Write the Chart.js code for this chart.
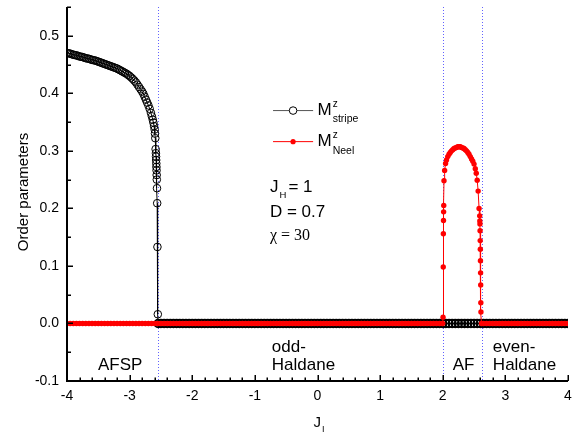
<!DOCTYPE html>
<html>
<head>
<meta charset="utf-8">
<script src="https://cdn.jsdelivr.net/npm/chart.js@4/dist/chart.umd.min.js"></script>
<style>
  html, body { margin: 0; padding: 0; background: #fff; }
  canvas { display: block; }
</style>
</head>
<body>
<canvas id="orderChart" width="583" height="438"></canvas>
<script>
// tick labels
const xTicks = [-4, -3, -2, -1, 0, 1, 2, 3, 4];
const yTicks = [-0.1, 0.0, 0.1, 0.2, 0.3, 0.4, 0.5];

// phase boundaries (blue dotted lines)
const phaseBounds = [-2.55, 2.01, 2.62];

// M^z_stripe: curved part + drop near the transition
const stripeCurveX = [
    -4.000, -3.975, -3.950, -3.925, -3.900, -3.875, -3.850, -3.825, -3.800, -3.775,
    -3.750, -3.725, -3.700, -3.675, -3.650, -3.625, -3.600, -3.575, -3.550, -3.525,
    -3.500, -3.475, -3.450, -3.425, -3.400, -3.375, -3.350, -3.325, -3.300, -3.275,
    -3.250, -3.225, -3.200, -3.175, -3.150, -3.125, -3.100, -3.075, -3.050, -3.025,
    -3.000, -2.975, -2.950, -2.925, -2.900, -2.875, -2.850, -2.825, -2.800, -2.780,
    -2.760, -2.740, -2.720, -2.700, -2.680, -2.660, -2.645, -2.630, -2.620, -2.610,
    -2.600, -2.595, -2.590, -2.585, -2.580, -2.578, -2.576, -2.574, -2.572, -2.570,
    -2.568, -2.566, -2.563, -2.560, -2.556, -2.550
];
const stripeCurveY = [
    0.470, 0.4695, 0.469, 0.468, 0.467, 0.4665, 0.466, 0.465, 0.464, 0.4635,
    0.463, 0.462, 0.461, 0.4605, 0.460, 0.459, 0.458, 0.4575, 0.457, 0.456,
    0.455, 0.454, 0.453, 0.452, 0.451, 0.450, 0.449, 0.448, 0.447, 0.446,
    0.445, 0.444, 0.443, 0.4415, 0.440, 0.4385, 0.437, 0.4355, 0.434, 0.432,
    0.430, 0.4275, 0.425, 0.422, 0.419, 0.415, 0.411, 0.407, 0.403, 0.399,
    0.394, 0.389, 0.384, 0.379, 0.373, 0.366, 0.360, 0.354, 0.349, 0.343,
    0.337, 0.330, 0.322, 0.303, 0.296, 0.290, 0.284, 0.278, 0.272, 0.266,
    0.258, 0.250, 0.235, 0.209, 0.133, 0.016
];
// M^z_stripe = 0 beyond the transition
const stripeZeroX = [
    -2.545, -2.50, -2.45, -2.40, -2.35, -2.30, -2.25, -2.20, -2.15, -2.10,
    -2.05, -2.00, -1.95, -1.90, -1.85, -1.80, -1.75, -1.70, -1.65, -1.60,
    -1.55, -1.50, -1.45, -1.40, -1.35, -1.30, -1.25, -1.20, -1.15, -1.10,
    -1.05, -1.00, -0.95, -0.90, -0.85, -0.80, -0.75, -0.70, -0.65, -0.60,
    -0.55, -0.50, -0.45, -0.40, -0.35, -0.30, -0.25, -0.20, -0.15, -0.10,
    -0.05, 0.00, 0.05, 0.10, 0.15, 0.20, 0.25, 0.30, 0.35, 0.40,
    0.45, 0.50, 0.55, 0.60, 0.65, 0.70, 0.75, 0.80, 0.85, 0.90,
    0.95, 1.00, 1.05, 1.10, 1.15, 1.20, 1.25, 1.30, 1.35, 1.40,
    1.45, 1.50, 1.55, 1.60, 1.65, 1.70, 1.75, 1.80, 1.85, 1.90,
    1.95, 2.00, 2.05, 2.10, 2.15, 2.20, 2.25, 2.30, 2.35, 2.40,
    2.45, 2.50, 2.55, 2.60, 2.65, 2.70, 2.75, 2.80, 2.85, 2.90,
    2.95, 3.00, 3.05, 3.10, 3.15, 3.20, 3.25, 3.30, 3.35, 3.40,
    3.45, 3.50, 3.55, 3.60, 3.65, 3.70, 3.75, 3.80, 3.85, 3.90,
    3.95, 4.00
];

// M^z_Neel = 0 before the AF phase
const neelZeroLeftX = [
    -4.00, -3.95, -3.90, -3.85, -3.80, -3.75, -3.70, -3.65, -3.60, -3.55,
    -3.50, -3.45, -3.40, -3.35, -3.30, -3.25, -3.20, -3.15, -3.10, -3.05,
    -3.00, -2.95, -2.90, -2.85, -2.80, -2.75, -2.70, -2.65, -2.60, -2.55,
    -2.50, -2.45, -2.40, -2.35, -2.30, -2.25, -2.20, -2.15, -2.10, -2.05,
    -2.00, -1.95, -1.90, -1.85, -1.80, -1.75, -1.70, -1.65, -1.60, -1.55,
    -1.50, -1.45, -1.40, -1.35, -1.30, -1.25, -1.20, -1.15, -1.10, -1.05,
    -1.00, -0.95, -0.90, -0.85, -0.80, -0.75, -0.70, -0.65, -0.60, -0.55,
    -0.50, -0.45, -0.40, -0.35, -0.30, -0.25, -0.20, -0.15, -0.10, -0.05,
    0.00, 0.05, 0.10, 0.15, 0.20, 0.25, 0.30, 0.35, 0.40, 0.45,
    0.50, 0.55, 0.60, 0.65, 0.70, 0.75, 0.80, 0.85, 0.90, 0.95,
    1.00, 1.05, 1.10, 1.15, 1.20, 1.25, 1.30, 1.35, 1.40, 1.45,
    1.50, 1.55, 1.60, 1.65, 1.70, 1.75, 1.80, 1.85, 1.90, 1.95,
    2.00
];
// M^z_Neel dome inside the AF phase
const neelDomeX = [
    2.005, 2.008, 2.010, 2.012, 2.014, 2.016, 2.020, 2.030, 2.045, 2.060,
    2.080, 2.100, 2.120, 2.140, 2.160, 2.180, 2.200, 2.220, 2.240, 2.260,
    2.280, 2.300, 2.320, 2.340, 2.360, 2.380, 2.400, 2.420, 2.440, 2.460,
    2.480, 2.500, 2.520, 2.535, 2.550, 2.565, 2.580, 2.590, 2.592, 2.594,
    2.596, 2.598, 2.600, 2.602, 2.604, 2.606, 2.608, 2.610, 2.620
];
const neelDomeY = [
    0.011, 0.098, 0.156, 0.179, 0.194, 0.205, 0.248, 0.266, 0.278, 0.284,
    0.290, 0.294, 0.297, 0.300, 0.302, 0.304, 0.305, 0.306, 0.307, 0.307,
    0.307, 0.306, 0.305, 0.304, 0.302, 0.300, 0.297, 0.294, 0.290, 0.286,
    0.282, 0.277, 0.269, 0.261, 0.249, 0.230, 0.200, 0.187, 0.178, 0.173,
    0.161, 0.144, 0.129, 0.109, 0.088, 0.067, 0.036, 0.020, 0.000
];
// M^z_Neel = 0 after the AF phase
const neelZeroRightX = [
    2.65, 2.70, 2.75, 2.80, 2.85, 2.90, 2.95, 3.00, 3.05, 3.10,
    3.15, 3.20, 3.25, 3.30, 3.35, 3.40, 3.45, 3.50, 3.55, 3.60,
    3.65, 3.70, 3.75, 3.80, 3.85, 3.90, 3.95, 4.00
];

const stripePoints = stripeCurveX.map((x, i) => ({ x, y: stripeCurveY[i] }))
    .concat(stripeZeroX.map(x => ({ x, y: 0 })));
const neelPoints = neelZeroLeftX.map(x => ({ x, y: 0 }))
    .concat(neelDomeX.map((x, i) => ({ x, y: neelDomeY[i] })))
    .concat(neelZeroRightX.map(x => ({ x, y: 0 })));

const SANS = "'Liberation Sans', Arial, sans-serif";
const SERIF = "'Liberation Serif', 'Times New Roman', serif";

Chart.defaults.color = '#000';
Chart.defaults.font.family = SANS;
Chart.defaults.font.size = 14;

function drawText(ctx, str, x, y, size, opts = {}) {
    ctx.font = `${size}px ${opts.family || SANS}`;
    ctx.textAlign = opts.align || 'left';
    ctx.textBaseline = 'middle';
    ctx.fillStyle = '#000';
    ctx.fillText(str, x, y);
    return ctx.measureText(str).width;
}

// phase boundaries under the data
const boundsPlugin = {
    id: 'bounds',
    beforeDatasetsDraw(chart) {
        const { ctx, chartArea: a, scales: { x } } = chart;
        ctx.save();
        ctx.strokeStyle = 'rgba(70, 70, 255, 0.85)';
        ctx.lineWidth = 1;
        ctx.setLineDash([1, 2]);
        phaseBounds.forEach(v => {
            const px = Math.round(x.getPixelForValue(v)) + 0.5;
            ctx.beginPath();
            ctx.moveTo(px, a.top);
            ctx.lineTo(px, a.bottom);
            ctx.stroke();
        });
        ctx.restore();
    }
};

// axes with inward ticks, annotations and legend
const decorPlugin = {
    id: 'decor',
    afterDraw(chart) {
        const { ctx, chartArea: a, scales: { x, y } } = chart;
        const px = v => x.getPixelForValue(v);
        const py = v => y.getPixelForValue(v);
        ctx.save();

        // axis lines
        ctx.strokeStyle = '#000';
        ctx.lineWidth = 2;
        ctx.beginPath();
        ctx.moveTo(a.left, a.top);
        ctx.lineTo(a.left, a.bottom);
        ctx.lineTo(a.right, a.bottom);
        ctx.stroke();

        // ticks
        ctx.lineWidth = 1.5;
        ctx.beginPath();
        for (let i = -20; i <= 20; i++) {
            const xp = Math.round(px(i / 5)) + 0.25;
            const len = i % 5 === 0 ? 6 : 3.5;
            ctx.moveTo(xp, a.bottom);
            ctx.lineTo(xp, a.bottom - len);
        }
        for (let i = -2; i <= 11; i++) {
            const yp = Math.round(py(i / 20)) + 0.25;
            const len = i % 2 === 0 ? 6 : 4;
            ctx.moveTo(a.left, yp);
            ctx.lineTo(a.left + len, yp);
        }
        ctx.stroke();

        // axis titles
        ctx.save();
        ctx.translate(24, (a.top + a.bottom) / 2 - 2);
        ctx.rotate(-Math.PI / 2);
        drawText(ctx, 'Order parameters', 0, 0, 15, { align: 'center' });
        ctx.restore();
        const jw = drawText(ctx, 'J', px(0) - 4, a.bottom + 42, 15);
        drawText(ctx, 'I', px(0) - 4 + jw + 1, a.bottom + 49, 9);

        // phase names
        drawText(ctx, 'AFSP', px(-3.15), py(-0.072), 17, { align: 'center' });
        drawText(ctx, 'odd-', px(-0.73), py(-0.041), 17);
        drawText(ctx, 'Haldane', px(-0.73), py(-0.072), 17);
        drawText(ctx, 'AF', px(2.16), py(-0.072), 17);
        drawText(ctx, 'even-', px(2.80), py(-0.041), 17);
        drawText(ctx, 'Haldane', px(2.80), py(-0.072), 17);

        // legend
        const lx1 = px(-0.71), lx2 = px(-0.07), lm = px(-0.39);
        const ly1 = py(0.370), ly2 = py(0.316);
        ctx.lineWidth = 1;
        ctx.strokeStyle = '#555';
        ctx.beginPath();
        ctx.moveTo(lx1, ly1); ctx.lineTo(lx2, ly1);
        ctx.stroke();
        ctx.strokeStyle = '#000';
        ctx.fillStyle = '#fff';
        ctx.beginPath();
        ctx.arc(lm, ly1, 3.8, 0, Math.PI * 2);
        ctx.fill(); ctx.stroke();
        ctx.strokeStyle = '#ff0000';
        ctx.beginPath();
        ctx.moveTo(lx1, ly2); ctx.lineTo(lx2, ly2);
        ctx.stroke();
        ctx.fillStyle = '#ff0000';
        ctx.beginPath();
        ctx.arc(lm, ly2, 2.6, 0, Math.PI * 2);
        ctx.fill();

        const tx = px(0.0);
        let mw = drawText(ctx, 'M', tx, ly1, 17);
        drawText(ctx, 'z', tx + mw + 1, ly1 - 6, 10);
        drawText(ctx, 'stripe', tx + mw + 1, ly1 + 9, 10.5);
        mw = drawText(ctx, 'M', tx, ly2, 17);
        drawText(ctx, 'z', tx + mw + 1, ly2 - 6, 10);
        drawText(ctx, 'Neel', tx + mw + 1, ly2 + 9, 10.5);

        // parameters
        const px0 = px(-0.76);
        const jhw = drawText(ctx, 'J', px0, py(0.237), 17);
        drawText(ctx, 'H', px0 + jhw + 1, py(0.237) + 8, 9.5);
        drawText(ctx, '= 1', px0 + jhw + 10, py(0.237), 17);
        drawText(ctx, 'D = 0.7', px0, py(0.194), 17);
        drawText(ctx, 'χ = 30', px0, py(0.152), 16, { family: SERIF });

        ctx.restore();
    }
};

new Chart(document.getElementById('orderChart'), {
    type: 'scatter',
    data: {
        datasets: [
            {
                label: 'Neel',
                data: neelPoints,
                showLine: true,
                borderColor: '#ff0000',
                borderWidth: 1,
                pointRadius: 2.7,
                pointBorderWidth: 0,
                pointBackgroundColor: '#ff0000',
                order: 0
            },
            {
                label: 'stripe',
                data: stripePoints,
                showLine: true,
                borderColor: '#000',
                borderWidth: 1,
                pointRadius: 3.8,
                pointBorderWidth: c => (c.raw && c.raw.y === 0 ? 1.8 : 1),
                pointBorderColor: '#000',
                pointBackgroundColor: 'rgba(0,0,0,0)',
                order: 1
            }
        ]
    },
    options: {
        responsive: false,
        animation: false,
        events: [],
        layout: { padding: { top: 7, right: 15, left: 0, bottom: 0 } },
        plugins: {
            legend: { display: false },
            tooltip: { enabled: false }
        },
        scales: {
            x: {
                type: 'linear',
                min: -4,
                max: 4,
                grid: { display: false, drawTicks: false },
                border: { display: false },
                afterBuildTicks: s => { s.ticks = xTicks.map(v => ({ value: v })); },
                afterFit: s => {
                    s.height = 57;
                    s.paddingLeft = 0;
                    s.paddingRight = 0;
                },
                ticks: {
                    padding: 7,
                    font: { size: 14 },
                    callback: v => String(v)
                }
            },
            y: {
                type: 'linear',
                min: -0.1,
                max: 0.55,
                grid: { display: false, drawTicks: false },
                border: { display: false },
                afterBuildTicks: s => { s.ticks = yTicks.map(v => ({ value: v })); },
                afterFit: s => {
                    s.width = 67;
                    s.paddingTop = 0;
                    s.paddingBottom = 0;
                },
                ticks: {
                    padding: 8,
                    font: { size: 14 },
                    callback: v => v.toFixed(1)
                }
            }
        }
    },
    plugins: [boundsPlugin, decorPlugin]
});
</script>
</body>
</html>
